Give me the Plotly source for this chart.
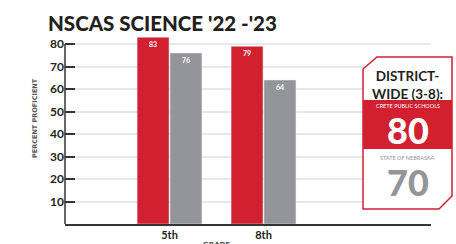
import plotly.graph_objects as go

grades = ["5th", "8th"]
crete = [83, 79]
state = [76, 64]
yticks = [10, 20, 30, 40, 50, 60, 70, 80]
district_crete = 80
district_state = 70

RED = "#D12030"
GRAY = "#939598"
DARK = "#231F20"

W, H = 456, 244
L, R, T, B = 65, 431, 35, 224  # plot area in px


def px(x):
    return (x - L) / (R - L)


def py(y):
    return (B - y) / (B - T)


xpos = list(range(len(grades)))

fig = go.Figure()
fig.add_bar(x=xpos, y=crete, name="Crete Public Schools", marker_color=RED,
            width=0.34, offset=-0.345, text=[str(v) for v in crete],
            textposition="inside", insidetextanchor="end", textangle=0,
            constraintext="none",
            textfont=dict(color="white", size=7, family="Lato", weight="bold"))
fig.add_bar(x=xpos, y=state, name="State of Nebraska", marker_color=GRAY,
            width=0.34, offset=0.005, text=[str(v) for v in state],
            textposition="inside", insidetextanchor="end", textangle=0,
            constraintext="none",
            textfont=dict(color="white", size=7, family="Lato", weight="bold"))

# left axis line (stops at 80)
fig.add_shape(type="line", xref="paper", yref="y", x0=0, x1=0, y0=0, y1=80,
              line=dict(color="#333333", width=1.5))

# district box
path = (f"M {px(363)},{py(69)} L {px(377)},{py(57)} L {px(452)},{py(57)} "
        f"L {px(452)},{py(196)} L {px(439)},{py(209)} L {px(363)},{py(209)} Z")
fig.add_shape(type="path", xref="paper", yref="paper", path=path,
              fillcolor="white", line=dict(color=RED, width=1.5), layer="above")
fig.add_shape(type="rect", xref="paper", yref="paper",
              x0=px(363), x1=px(452), y0=py(149), y1=py(100),
              fillcolor=RED, line=dict(width=0), layer="above")

cx = px(407.5)
ann = [
    dict(text="DISTRICT-<br>WIDE (3-8):", x=cx, y=py(84.5), size=13.5, color=DARK, weight="bold", family="Lato"),
    dict(text="CRETE PUBLIC SCHOOLS", x=cx, y=py(106.5), size=5.5, color="white", weight="normal", family="Lato"),
    dict(text=str(district_crete), x=cx, y=py(130), size=36, color="white", weight=900, family="Lato"),
    dict(text="STATE OF NEBRASKA", x=cx, y=py(158), size=5.5, color=GRAY, weight="normal", family="Lato"),
    dict(text=str(district_state), x=cx, y=py(182), size=36, color=GRAY, weight=900, family="Lato"),
]
for a in ann:
    fig.add_annotation(text=a["text"], x=a["x"], y=a["y"], xref="paper", yref="paper",
                       xanchor="center", yanchor="middle", showarrow=False,
                       font=dict(size=a["size"], color=a["color"], family=a["family"], weight=a["weight"]))

# y-axis title
fig.add_annotation(text="PERCENT PROFICIENT", x=px(35), y=py(118), xref="paper", yref="paper",
                   textangle=-90, showarrow=False, xanchor="center", yanchor="middle",
                   font=dict(size=6.5, color="#555555", family="DejaVu Sans", weight="bold"))
# x-axis title
fig.add_annotation(text="GRADE", x=0.5, y=py(239), xref="x", yref="paper",
                   showarrow=False, xanchor="center", yanchor="top",
                   font=dict(size=7, color="#555555", family="DejaVu Sans", weight="bold"))

fig.update_layout(
    width=W, height=H,
    margin=dict(l=L, r=W - R, t=T, b=H - B, pad=0, autoexpand=False),
    paper_bgcolor="white", plot_bgcolor="white",
    showlegend=False, barmode="overlay",
    title=dict(text="NSCAS SCIENCE '22 -'23", x=48 / W, xanchor="left", xref="container",
               y=1 - 24 / H, yanchor="middle", yref="container",
               font=dict(size=20.5, color=DARK, family="Lato", weight=900)),
    xaxis=dict(range=[-1.112, 2.782], tickvals=xpos, ticktext=grades, automargin=False,
               showline=True, linecolor="#333333", linewidth=1.5, showgrid=False,
               ticks="", tickfont=dict(size=11, color=DARK, family="Lato", weight="bold"),
               zeroline=False, fixedrange=True),
    yaxis=dict(range=[0, 84], tickvals=yticks, ticktext=[str(v) for v in yticks], automargin=False,
               showline=False, showgrid=True, gridcolor="#E8E8E8", gridwidth=1.5,
               ticks="inside", ticklen=10, tickcolor="#333333", tickwidth=1.5,
               tickfont=dict(size=12, color=DARK, family="Lato", weight="bold"),
               zeroline=False, fixedrange=True),
)

fig.write_html("out.html", config={"displayModeBar": False},
               post_script="document.body.style.margin='0';document.body.style.overflow='hidden';")
